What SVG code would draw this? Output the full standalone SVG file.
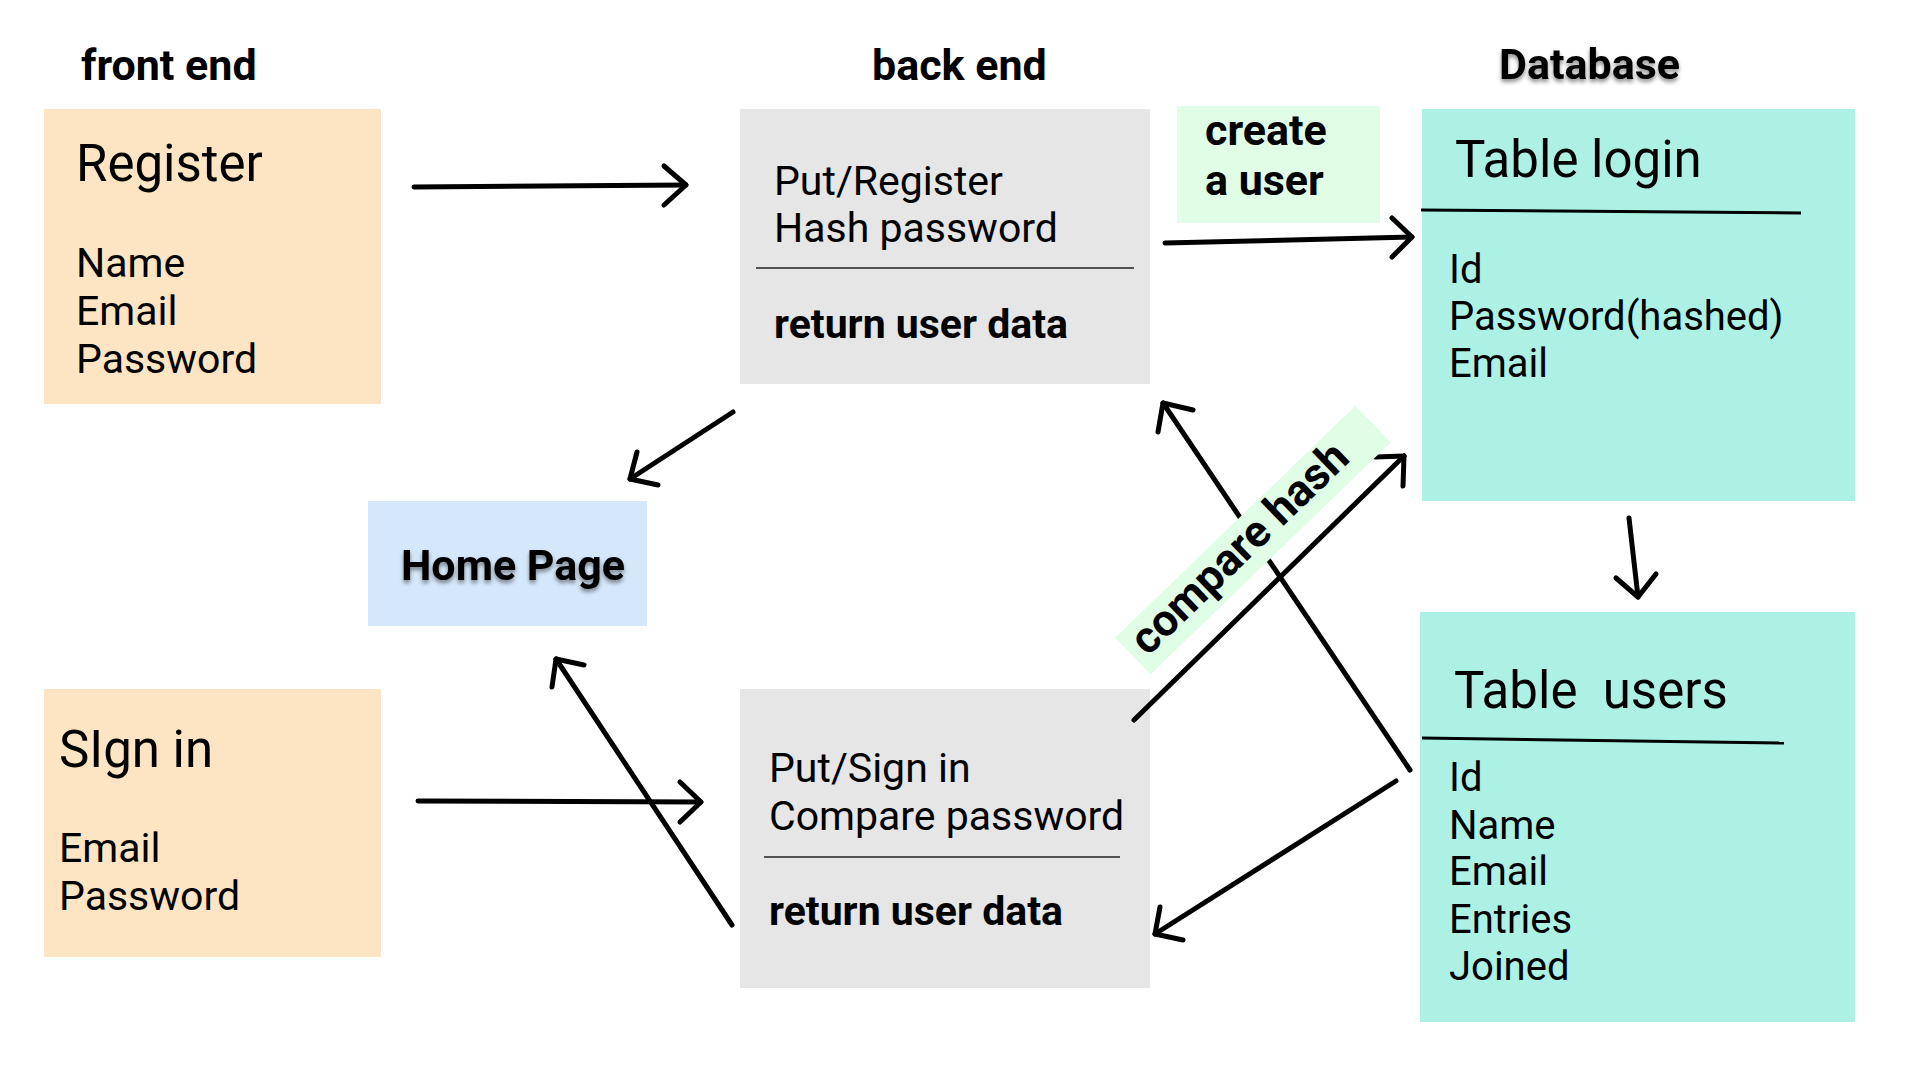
<svg xmlns="http://www.w3.org/2000/svg" width="1920" height="1080" viewBox="0 0 1920 1080">
<defs>
<style>
text{font-family:Roboto,"Liberation Sans",Arial,sans-serif;fill:#000}
.hdr{font-size:43px;font-weight:bold}
.ttl{font-size:51px}
.fld{font-size:41px}
.tfld{font-size:40px}
.bld{font-size:41px;font-weight:bold}
.peach{fill:#fde4c2}
.gray{fill:#e6e6e6}
.home{fill:#d5e8fb}
.teal{fill:#adf1e5}
.lbl{fill:#e0fde5}
.thin{stroke:#222;stroke-width:1.5;fill:none}
.sep{stroke:#000;stroke-width:3;fill:none}
#connectors polyline,#connectors line{stroke:#000;stroke-width:5;fill:none;stroke-linecap:round;stroke-linejoin:round}
</style>
<filter id="shadow" x="-10%" y="-30%" width="120%" height="170%">
<feDropShadow dx="0" dy="3" stdDeviation="2" flood-color="#000" flood-opacity="0.45"/>
</filter>
</defs>
<rect width="1920" height="1080" fill="#fff"/>

<g id="headers">
<text class="hdr" x="81" y="80">front end</text>
<text class="hdr" x="872" y="80">back end</text>
<text class="hdr" x="1499" y="79" filter="url(#shadow)">Database</text>
</g>

<g id="register">
<rect class="peach" x="44" y="109" width="337" height="295"/>
<text class="ttl" x="76" y="181">Register</text>
<text class="fld" x="76" y="277">Name</text>
<text class="fld" x="76" y="325">Email</text>
<text class="fld" x="76" y="373">Password</text>
</g>

<g id="signin">
<rect class="peach" x="44" y="689" width="337" height="268"/>
<text class="ttl" x="59" y="767">SIgn in</text>
<text class="fld" x="59" y="862">Email</text>
<text class="fld" x="59" y="910">Password</text>
</g>

<g id="homepage">
<rect class="home" x="368" y="501" width="279" height="125"/>
<text class="hdr" x="401" y="580" filter="url(#shadow)">Home Page</text>
</g>

<g id="backend-register">
<rect class="gray" x="740" y="109" width="410" height="275"/>
<text class="fld" x="774" y="195">Put/Register</text>
<text class="fld" x="774" y="242">Hash password</text>
<line class="thin" x1="756" y1="268" x2="1134" y2="268"/>
<text class="bld" x="774" y="338">return user data</text>
</g>

<g id="backend-signin">
<rect class="gray" x="740" y="689" width="410" height="299"/>
<text class="fld" x="769" y="782">Put/Sign in</text>
<text class="fld" x="769" y="830">Compare password</text>
<line class="thin" x1="764" y1="857" x2="1120" y2="857"/>
<text class="bld" x="769" y="925">return user data</text>
</g>

<g id="table-login">
<rect class="teal" x="1422" y="109" width="433" height="392"/>
<text class="ttl" x="1455" y="177">Table login</text>
<line class="sep" x1="1421" y1="210" x2="1801" y2="213"/>
<text class="tfld" x="1449" y="283">Id</text>
<text class="tfld" x="1449" y="330">Password(hashed)</text>
<text class="tfld" x="1449" y="377">Email</text>
</g>

<g id="table-users">
<rect class="teal" x="1420" y="612" width="435" height="410"/>
<text class="ttl" x="1454" y="708" xml:space="preserve">Table  users</text>
<line class="sep" x1="1422" y1="738" x2="1784" y2="743"/>
<text class="tfld" x="1449" y="791">Id</text>
<text class="tfld" x="1449" y="839">Name</text>
<text class="tfld" x="1449" y="885">Email</text>
<text class="tfld" x="1449" y="933">Entries</text>
<text class="tfld" x="1449" y="980">Joined</text>
</g>

<g id="connectors">
<line x1="414" y1="187" x2="686" y2="185"/>
<polyline points="664,166 686,185 664,205"/>
<line x1="1165" y1="243" x2="1412" y2="237"/>
<polyline points="1392,218 1412,237 1392,257"/>
<line x1="733" y1="412" x2="630" y2="479"/>
<polyline points="637,452 630,479 658,485"/>
<line x1="1629" y1="518" x2="1638" y2="597"/>
<polyline points="1616,578 1638,597 1656,574"/>
<line x1="418" y1="801" x2="701" y2="802"/>
<polyline points="680,782 701,802 680,822"/>
<line x1="732" y1="925" x2="556" y2="659"/>
<polyline points="552,687 556,659 584,665"/>
<line x1="1134" y1="720" x2="1404" y2="456"/>
<polyline points="1375,457 1404,456 1403,486"/>
<line x1="1410" y1="770" x2="1163" y2="403"/>
<polyline points="1158,432 1163,403 1193,410"/>
<line x1="1396" y1="781" x2="1155" y2="934"/>
<polyline points="1160,907 1155,934 1183,940"/>
</g>

<g id="label-create">
<rect class="lbl" x="1177" y="106" width="203" height="117"/>
<text class="bld" x="1205" y="145" style="font-size:43px">create</text>
<text class="bld" x="1205" y="195" style="font-size:43px">a user</text>
</g>

<g id="label-compare" transform="translate(1253,540) rotate(-44)">
<rect class="lbl" x="-167" y="-25.5" width="334" height="51"/>
<text class="bld" x="-157" y="11" style="font-size:44.5px">compare hash</text>
</g>
</svg>
